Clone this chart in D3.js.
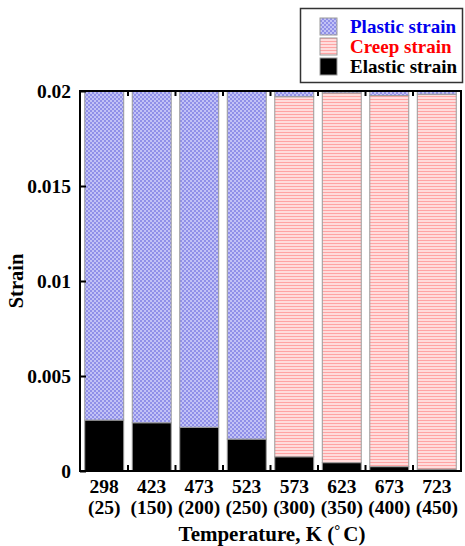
<!DOCTYPE html>
<html>
<head>
<meta charset="utf-8">
<script src="https://cdn.jsdelivr.net/npm/d3@7"></script>
<style>
  html, body { margin: 0; padding: 0; background: #fff; }
  svg { display: block; }
  text { font-family: "Liberation Serif", "Times New Roman", serif; font-weight: bold; }
</style>
</head>
<body>
<svg id="chart" width="465" height="546"></svg>
<script>
// Temperatures (K) and the matching Celsius values shown under each bar
const tempK = ["298", "423", "473", "523", "573", "623", "673", "723"];
const tempC = ["(25)", "(150)", "(200)", "(250)", "(300)", "(350)", "(400)", "(450)"];

// Strain components per temperature (stacked bottom to top: elastic, creep, plastic)
const elastic = [0.00268, 0.00254, 0.00230, 0.00168, 0.00075, 0.00044, 0.00023, 0.00010];
const creep   = [0, 0, 0, 0, 0.01895, 0.01946, 0.01953, 0.01973];
const plastic = [0.01732, 0.01746, 0.01770, 0.01832, 0.00030, 0.00010, 0.00024, 0.00017];

const yTicks = [0, 0.005, 0.01, 0.015, 0.02];
const yTickLabels = ["0", "0.005", "0.01", "0.015", "0.02"];

const seriesKeys = ["elastic", "creep", "plastic"];
const legendItems = [
  { key: "plastic", label: "Plastic strain", color: "#0000ee" },
  { key: "creep", label: "Creep strain", color: "#ff0000" },
  { key: "elastic", label: "Elastic strain", color: "#000000" }
];

const rows = tempK.map((k, i) => ({ k, c: tempC[i], elastic: elastic[i], creep: creep[i], plastic: plastic[i] }));

const svg = d3.select("#chart");
const plot = { left: 80, right: 461, top: 91, bottom: 471 };

// Fill patterns
const defs = svg.append("defs");
const pPlastic = defs.append("pattern").attr("id", "pat-plastic")
  .attr("patternUnits", "userSpaceOnUse").attr("width", 4).attr("height", 4);
pPlastic.append("rect").attr("width", 4).attr("height", 4).attr("fill", "#c2c2f6");
pPlastic.append("rect").attr("width", 2).attr("height", 2).attr("fill", "#9090e8");
pPlastic.append("rect").attr("x", 2).attr("y", 2).attr("width", 2).attr("height", 2).attr("fill", "#9090e8");

const pCreep = defs.append("pattern").attr("id", "pat-creep")
  .attr("patternUnits", "userSpaceOnUse").attr("width", 4).attr("height", 3);
pCreep.append("rect").attr("width", 4).attr("height", 3).attr("fill", "#ffdcdc");
pCreep.append("rect").attr("width", 4).attr("height", 1).attr("fill", "#ffa4a4");

const fills = { plastic: "url(#pat-plastic)", creep: "url(#pat-creep)", elastic: "#000" };

const x = d3.scaleBand().domain(tempK).range([plot.left, plot.right])
  .paddingInner(0.18).paddingOuter(0.1);
const y = d3.scaleLinear().domain([0, 0.02]).range([plot.bottom, plot.top]);

const stacked = d3.stack().keys(seriesKeys)(rows);

// Bars
const layers = svg.append("g").selectAll("g").data(stacked).join("g")
  .attr("fill", d => fills[d.key]);
layers.selectAll("rect").data(d => d.filter(s => s[1] - s[0] > 0)).join("rect")
  .attr("x", d => x(d.data.k))
  .attr("width", x.bandwidth())
  .attr("y", d => y(d[1]))
  .attr("height", d => y(d[0]) - y(d[1]))
  .attr("stroke", "#9a9a9a")
  .attr("stroke-width", 1);

// Frame
svg.append("rect")
  .attr("x", plot.left).attr("y", plot.top)
  .attr("width", plot.right - plot.left).attr("height", plot.bottom - plot.top)
  .attr("fill", "none").attr("stroke", "#000").attr("stroke-width", 2);

// Category boundary ticks (top and bottom, pointing inward)
const step = x.step();
const bounds = tempK.slice(0, -1).map(k => x(k) + x.bandwidth() + step * x.paddingInner() / 2);
const tickG = svg.append("g").attr("stroke", "#000").attr("stroke-width", 2);
tickG.selectAll(".tb").data(bounds).join("line")
  .attr("x1", d => d).attr("x2", d => d)
  .attr("y1", plot.bottom).attr("y2", plot.bottom - 6);
tickG.selectAll(".tt").data(bounds).join("line")
  .attr("x1", d => d).attr("x2", d => d)
  .attr("y1", plot.top).attr("y2", plot.top + 5);

// Y axis
const yAxis = d3.axisLeft(y).tickValues(yTicks)
  .tickFormat((d, i) => yTickLabels[i]).tickSizeInner(-6).tickSizeOuter(0).tickPadding(9);
const yg = svg.append("g").attr("transform", `translate(${plot.left},0)`).call(yAxis);
yg.select(".domain").remove();
yg.selectAll(".tick line").attr("stroke", "#000").attr("stroke-width", 2);
yg.selectAll(".tick text").attr("font-size", 19.5).attr("fill", "#000")
  .attr("font-family", "Liberation Serif").attr("font-weight", "bold");

// X tick labels (K over °C)
const xl = svg.append("g").selectAll("g").data(rows).join("g")
  .attr("transform", d => `translate(${x(d.k) + x.bandwidth() / 2},0)`);
xl.append("text").attr("y", 493).attr("text-anchor", "middle").attr("font-size", 19.5).text(d => d.k);
xl.append("text").attr("y", 514).attr("text-anchor", "middle").attr("font-size", 19.5).text(d => d.c);

// Axis titles
const xt = svg.append("text").attr("x", 272).attr("y", 541)
  .attr("text-anchor", "middle").attr("font-size", 21);
xt.append("tspan").text("Temperature, K (");
xt.append("tspan").attr("dy", -6).attr("font-size", 15).text("°");
xt.append("tspan").attr("dy", 6).attr("dx", 3).text("C)");

svg.append("text")
  .attr("transform", "translate(23,281) rotate(-90)")
  .attr("text-anchor", "middle").attr("font-size", 20.5).text("Strain");

// Legend
const lg = svg.append("g");
lg.append("rect").attr("x", 300.5).attr("y", 8.5).attr("width", 162).attr("height", 74)
  .attr("fill", "#fff").attr("stroke", "#333").attr("stroke-width", 1.5);
const li = lg.selectAll(".li").data(legendItems).join("g")
  .attr("transform", (d, i) => `translate(0,${i * 20})`);
li.append("rect").attr("x", 320).attr("y", 18).attr("width", 17).attr("height", 17)
  .attr("fill", d => fills[d.key]).attr("stroke", "#9a9a9a").attr("stroke-width", 1);
li.append("text").attr("x", 350).attr("y", 33).attr("font-size", 19)
  .attr("fill", d => d.color).text(d => d.label);
</script>
</body>
</html>
